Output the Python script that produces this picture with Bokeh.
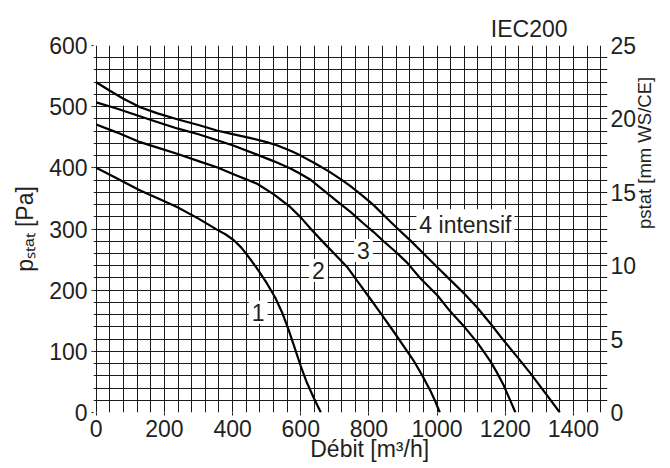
import math
from bokeh.plotting import figure
from bokeh.models import Range1d, LinearAxis, FixedTicker, Label, Title
from bokeh.embed import file_html
from bokeh.resources import INLINE

# ---- data ----
curve1_x = [0, 60, 129, 190, 237, 300, 354, 380, 403, 425, 442, 470, 501, 525, 545, 564, 582, 600, 618, 638, 659]
curve1_y = [400, 383, 363, 348, 336, 317, 299, 291, 282, 270, 258, 237, 211, 188, 164, 136, 106, 76, 49, 24, 0]

curve2_x = [0, 60, 129, 180, 237, 300, 354, 410, 472, 520, 569, 600, 633, 677, 736, 770, 804, 840, 873, 905, 931, 957, 980, 995, 1008]
curve2_y = [471, 458, 442, 433, 423, 411, 401, 388, 374, 357, 336, 319, 298, 272, 238, 212, 186, 158, 132, 106, 85, 60, 36, 18, 0]

curve3_x = [0, 60, 130, 190, 240, 300, 350, 400, 470, 520, 570, 600, 630, 670, 716, 746, 780, 814, 843, 880, 912, 950, 1000, 1039, 1080, 1117, 1140, 1156, 1175, 1195, 1212, 1230]
curve3_y = [507, 497, 484, 473, 464, 455, 446, 437, 422, 411, 399, 390, 380, 362, 341, 328, 311, 295, 280, 262, 245, 220, 192, 165, 140, 115, 97, 84, 66, 45, 23, 0]

curve4_x = [0, 40, 80, 129, 180, 240, 300, 354, 400, 450, 500, 530, 570, 600, 640, 680, 716, 746, 780, 814, 843, 880, 922, 960, 1000, 1040, 1080, 1117, 1160, 1195, 1235, 1274, 1320, 1360]
curve4_y = [540, 526, 513, 499, 489, 479, 470, 461, 455, 449, 442, 437, 428, 420, 408, 395, 382, 370, 355, 339, 323, 303, 281, 260, 238, 216, 194, 172, 143, 118, 91, 64, 30, 0]

curve_labels = ["1", "2", "3", "4 intensif"]
label_x = [475, 652, 784, 1083]
label_y = [164, 232, 265, 306]

x_ticks = [0, 200, 400, 600, 800, 1000, 1200, 1400]
y_ticks = [0, 100, 200, 300, 400, 500, 600]
mm_ticks = [0, 5, 10, 15, 20, 25]

FONT = "Liberation Sans"
TXT = "#231f20"
NB = "\u00a0"

W, H = 670, 468
BL, BR, BT, BB = 93, 63, 45, 56

p = figure(width=W, height=H, x_range=Range1d(-8, 1500), y_range=Range1d(0, 600),
           output_backend="svg", toolbar_location=None,
           min_border_left=BL, min_border_right=BR, min_border_top=BT, min_border_bottom=BB)
p.outline_line_color = None
p.background_fill_color = "white"
p.border_fill_color = "white"

# grid
p.xgrid.ticker = FixedTicker(ticks=list(range(0, 1481, 40)))
p.ygrid.ticker = FixedTicker(ticks=list(range(0, 601, 20)))
for g in (p.xgrid[0], p.ygrid[0]):
    g.grid_line_color = "#1a1a1a"
    g.grid_line_width = 1
    g.grid_line_alpha = 1

# axes
xa = p.below[0]
xa.ticker = FixedTicker(ticks=x_ticks)
ya = p.left[0]
ya.ticker = FixedTicker(ticks=y_ticks)

p.extra_y_ranges = {"mm": Range1d(0, 25)}
ra = LinearAxis(y_range_name="mm", ticker=FixedTicker(ticks=mm_ticks))
p.add_layout(ra, "right")

# label-only axis for the right-hand title
rl = LinearAxis(y_range_name="mm", ticker=FixedTicker(ticks=[]))
p.add_layout(rl, "right")

for ax in (xa, ya, ra, rl):
    ax.axis_line_color = None
    ax.minor_tick_line_color = None
    ax.major_tick_line_color = "#1a1a1a"
    ax.major_tick_in = 0
    ax.major_label_text_font = FONT
    ax.major_label_text_font_size = "23px"
    ax.major_label_text_color = TXT
    ax.axis_label_text_font = FONT
    ax.axis_label_text_font_style = "normal"
    ax.axis_label_text_color = TXT
xa.major_tick_out = 3
xa.major_label_standoff = 4
ya.major_tick_out = 2
ya.major_label_standoff = 4
ra.major_tick_out = 0
ra.major_label_standoff = 3
rl.major_tick_out = 0
rl.major_label_standoff = 0
rl.major_tick_line_color = None

xa.axis_label = NB * 6 + "Débit [m³/h]"
xa.axis_label_text_font_size = "23px"
xa.axis_label_standoff = -4

ya.axis_label = "pₛₜₐₜ [Pa]"
ya.axis_label_text_font_size = "23px"
ya.axis_label_standoff = 8

rl.axis_label = "pstat [mm WS/CE]"
rl.axis_label_text_font_size = "18.5px"
rl.axis_label_standoff = 5
try:
    rl.axis_label_orientation = math.pi / 2
except Exception:
    pass

# curves
for cx, cy in ((curve1_x, curve1_y), (curve2_x, curve2_y), (curve3_x, curve3_y), (curve4_x, curve4_y)):
    p.line(cx, cy, line_color="black", line_width=2.2, line_join="round")

# curve labels
for t, lx, ly in zip(curve_labels, label_x, label_y):
    p.add_layout(Label(x=lx, y=ly, text=t, text_align="center", text_baseline="middle",
                       text_font=FONT, text_font_size="23px", text_color=TXT,
                       background_fill_color="white", padding=3))

# header
p.add_layout(Title(text="IEC200", align="right", offset=40, standoff=8,
                   text_font=FONT, text_font_size="23px", text_font_style="normal",
                   text_color=TXT), "above")

open("out.html", "w").write(file_html(p, INLINE))
